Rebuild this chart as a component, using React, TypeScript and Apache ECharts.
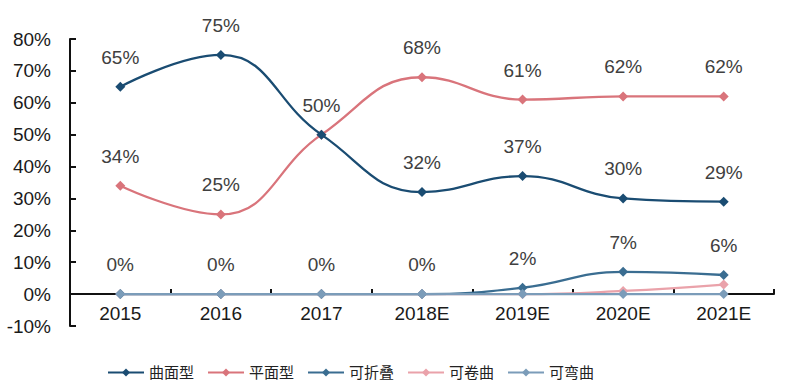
import React, { useEffect, useRef } from "react";
import * as echarts from "echarts";

const categories = ["2015", "2016", "2017", "2018E", "2019E", "2020E", "2021E"];
const curved = [65, 75, 50, 32, 37, 30, 29];
const flat = [34, 25, 50, 68, 61, 62, 62];
const foldable = [0, 0, 0, 0, 2, 7, 6];
const rollable = [0, 0, 0, 0, 0, 1, 3];
const bendable = [0, 0, 0, 0, 0, 0, 0];
const seriesNames = ["曲面型", "平面型", "可折叠", "可卷曲", "可弯曲"];
const colors = ["#1a4c72", "#d9747b", "#3a6d91", "#eaa2aa", "#7b9cb9"];

export default function App() {
  const ref = useRef<HTMLDivElement>(null);
  useEffect(() => {
    const chart = echarts.init(ref.current!, null, { renderer: "svg" });
    const font = "Arial, 'Liberation Sans', 'Noto Sans CJK SC', sans-serif";
    const labelStyle = {
      show: true,
      position: "top" as const,
      distance: 15,
      fontSize: 19,
      color: "#404040",
      fontFamily: font,
      formatter: (p: any) => `${p.value}%`,
    };
    const mk = (i: number, data: any[], label: boolean, z: number) => ({
      name: seriesNames[i],
      type: "line",
      data,
      smooth: 0.45,
      symbol: "diamond",
      symbolSize: 10,
      showSymbol: true,
      z,
      lineStyle: { width: 2.3, color: colors[i] },
      itemStyle: { color: colors[i] },
      label: label ? labelStyle : { show: false },
    });
    const curvedData = curved.map((v, i) =>
      i === 2 ? { value: v, label: { show: false } } : v
    );
    chart.setOption({
      animation: false,
      color: colors,
      textStyle: { fontFamily: font },
      grid: { left: 70, right: 26, top: 39, bottom: 66 },
      legend: {
        top: 360,
        left: 102,
        itemWidth: 36,
        itemHeight: 10,
        itemGap: 13,
        textStyle: { fontSize: 15, color: "#222", fontFamily: font },
        data: seriesNames,
      },
      xAxis: {
        type: "category",
        data: categories,
        boundaryGap: true,
        axisLine: { onZero: true, lineStyle: { color: "#111", width: 2 } },
        axisTick: { show: true, inside: true, length: 5, lineStyle: { color: "#111", width: 2 } },
        axisLabel: { fontSize: 19, color: "#1a1a1a", margin: -22, fontFamily: font },
      },
      yAxis: {
        type: "value",
        min: -10,
        max: 80,
        interval: 10,
        splitLine: { show: false },
        axisLine: { show: true, lineStyle: { color: "#111", width: 2 } },
        axisTick: { show: true, inside: true, length: 6, lineStyle: { color: "#111", width: 2 } },
        axisLabel: {
          fontSize: 19,
          color: "#1a1a1a",
          margin: 19,
          fontFamily: font,
          formatter: (v: number) => `${v}%`,
        },
      },
      series: [
        mk(0, curvedData, true, 5),
        mk(1, flat, true, 4),
        mk(2, foldable, true, 3),
        mk(3, rollable, false, 2),
        mk(4, bendable, false, 6),
      ],
    });
    return () => chart.dispose();
  }, []);
  return (
    <div
      ref={ref}
      style={{ position: "absolute", left: 0, top: 0, width: 800, height: 392, background: "#fff" }}
    />
  );
}
